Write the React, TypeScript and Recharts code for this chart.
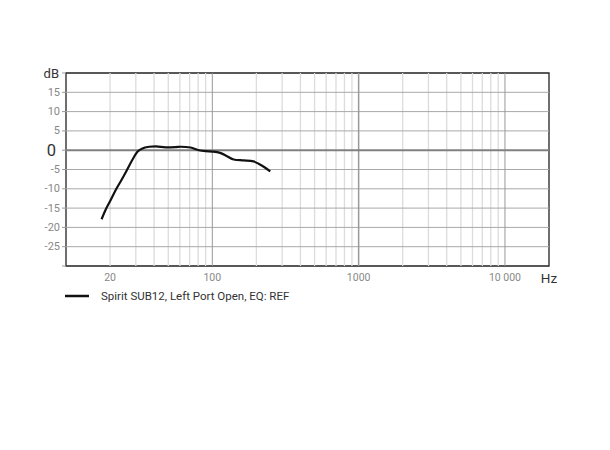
import React from 'react';
import { LineChart, Line, XAxis, YAxis, ReferenceLine, ReferenceArea, Legend } from 'recharts';

const frequencies = [17.5, 18.9, 20, 22.1, 24.2, 26.2, 28.5, 31, 33, 37, 41, 48, 56, 61, 71, 81, 90, 100, 113, 126, 140, 163, 191, 207, 230, 249];
const levels = [-17.9, -15, -13.2, -10, -7.4, -5, -2.4, -0.3, 0.4, 0.9, 1.0, 0.75, 0.8, 0.9, 0.7, 0, -0.25, -0.35, -0.7, -1.55, -2.4, -2.65, -2.9, -3.5, -4.55, -5.5];

const xTicks = [20, 100, 1000, 10000, 20000];
const yTicks = [-30, -25, -20, -15, -10, -5, 0, 5, 10, 15, 20];
const minorFreqs = [20, 30, 40, 50, 60, 70, 80, 90, 200, 300, 400, 500, 600, 700, 800, 900, 2000, 3000, 4000, 5000, 6000, 7000, 8000, 9000];
const decadeFreqs = [100, 1000, 10000];
const gridLevels = [-25, -20, -15, -10, -5, 5, 10, 15];
const seriesName = 'Spirit SUB12, Left Port Open, EQ: REF';

const data = frequencies.map((f, i) => ({ f, v: levels[i] }));

const FONT = 'Roboto, "Noto Sans", sans-serif';

const XTick = (props: any) => {
  const { x, y, payload } = props;
  const v = payload.value;
  if (v === 20000) {
    return (
      <text x={x} y={y + 4} textAnchor="middle" dominantBaseline="central" fontSize={13.5} fill="#333" fontFamily={FONT}>Hz</text>
    );
  }
  const label = v === 10000 ? '10 000' : String(v);
  return (
    <text x={x} y={y + 3} textAnchor="middle" dominantBaseline="central" fontSize={10.5} fill="#888" fontFamily={FONT}>{label}</text>
  );
};

const YTick = (props: any) => {
  const { x, y, payload } = props;
  const v = payload.value;
  if (v === -30) return <g />;
  if (v === 20) {
    return <text x={x - 1} y={y} textAnchor="end" dominantBaseline="central" fontSize={13} fill="#333" fontFamily={FONT}>dB</text>;
  }
  if (v === 0) {
    return <text x={x - 4} y={y} textAnchor="end" dominantBaseline="central" fontSize={16.5} fill="#333" fontFamily={FONT}>0</text>;
  }
  return <text x={x} y={y} textAnchor="end" dominantBaseline="central" fontSize={11} fill="#888" fontFamily={FONT}>{String(v)}</text>;
};

const LegendContent = () => (
  <div style={{ display: 'flex', alignItems: 'center', fontFamily: FONT, fontSize: 11.5, color: '#333' }}>
    <svg width={24} height={4} style={{ marginRight: 12 }}>
      <line x1={0} y1={2} x2={24} y2={2} stroke="#111" strokeWidth={2.5} />
    </svg>
    <span>{seriesName}</span>
  </div>
);

export default function App() {
  return (
    <div style={{ position: 'absolute', left: 0, top: 0, width: 610, height: 450, background: '#fff' }}>
      <LineChart width={610} height={450} data={data} margin={{ top: 73, right: 61, left: 26, bottom: 154 }}>
        <XAxis dataKey="f" type="number" scale="log" domain={[10, 20000]} ticks={xTicks} interval={0} tickLine={false} axisLine={false} tick={<XTick />} height={30} allowDataOverflow />
        <YAxis type="number" domain={[-30, 20]} ticks={yTicks} interval={0} width={40} axisLine={false} tickSize={4} tickLine={{ stroke: '#999' }} tick={<YTick />} allowDataOverflow />
        {minorFreqs.map((f) => (
          <ReferenceLine key={'m' + f} x={f} stroke="#dcdcdc" strokeWidth={1.3} />
        ))}
        {gridLevels.map((l) => (
          <ReferenceLine key={'h' + l} y={l} stroke="#a8a8a8" strokeWidth={1} />
        ))}
        {decadeFreqs.map((f) => (
          <ReferenceLine key={'d' + f} x={f} stroke="#999" strokeWidth={f === 1000 ? 1.5 : 1} />
        ))}
        <ReferenceLine y={0} stroke="#808080" strokeWidth={2} />
        <ReferenceArea x1={10} x2={20000} y1={-30} y2={20} fill="none" fillOpacity={0} stroke="#222" strokeOpacity={1} strokeWidth={1.3} ifOverflow="visible" />
        <Line type="monotone" dataKey="v" stroke="#111" strokeWidth={2.2} dot={false} isAnimationActive={false} name={seriesName} />
        <Legend align="center" verticalAlign="middle" content={<LegendContent />} wrapperStyle={{ top: 289, left: 65, width: 400, height: 16 }} />
      </LineChart>
    </div>
  );
}
